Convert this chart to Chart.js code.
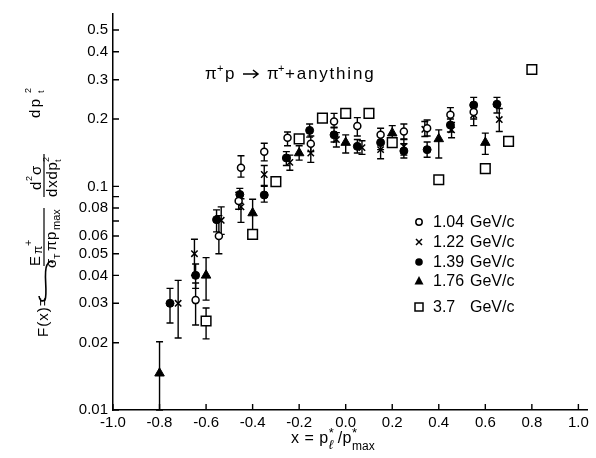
<!DOCTYPE html>
<html><head><meta charset="utf-8">
<script src="https://cdn.jsdelivr.net/npm/chart.js@4.4.1/dist/chart.umd.min.js"></script>
<style>html,body{margin:0;padding:0;background:#fff;}canvas{display:block;}</style>
</head><body>
<canvas id="c" width="596" height="458"></canvas>
<script>
// ---- axis ticks ----
const xTickValues = [-1.0,-0.8,-0.6,-0.4,-0.2,0.0,0.2,0.4,0.6,0.8,1.0];
const yTickValues = [0.01,0.02,0.03,0.04,0.05,0.06,0.07,0.08,0.09,0.1,0.2,0.3,0.4,0.5];
const yTickLabels = ['0.01','0.02','0.03','0.04','0.05','0.06','','0.08','','0.1','0.2','0.3','0.4','0.5'];

// ---- series: 1.04 GeV/c (open circles) ----
const x104  = [-0.645,-0.545,-0.46,-0.45,-0.35,-0.25,-0.15,-0.05,0.05,0.15,0.25,0.35,0.45,0.55];
const y104  = [0.031,0.060,0.086,0.121,0.143,0.165,0.155,0.195,0.186,0.170,0.176,0.182,0.209,0.215];
const lo104 = [0.024,0.050,0.079,0.110,0.130,0.152,0.143,0.184,0.168,0.158,0.162,0.168,0.192,0.200];
const hi104 = [0.037,0.074,0.094,0.137,0.156,0.175,0.168,0.212,0.203,0.182,0.190,0.198,0.225,0.235];
// ---- 1.22 GeV/c (crosses) ----
const x122  = [-0.72,-0.65,-0.535,-0.45,-0.35,-0.24,-0.15,-0.04,0.07,0.15,0.25,0.34,0.455,0.55,0.66];
const y122  = [0.030,0.050,0.0705,0.081,0.113,0.128,0.141,0.162,0.149,0.146,0.151,0.180,0.179,0.209,0.199];
const lo122 = [0.021,0.040,0.061,0.069,0.101,0.118,0.128,0.150,0.139,0.133,0.138,0.167,0.165,0.187,0.176];
const hi122 = [0.038,0.058,0.081,0.088,0.124,0.138,0.153,0.174,0.160,0.158,0.163,0.195,0.193,0.225,0.223];
// ---- 1.39 GeV/c (filled circles) ----
const x139  = [-0.755,-0.645,-0.555,-0.455,-0.35,-0.255,-0.155,-0.05,0.05,0.15,0.25,0.35,0.45,0.55,0.65];
const y139  = [0.030,0.040,0.071,0.092,0.0915,0.134,0.178,0.170,0.151,0.157,0.144,0.146,0.188,0.231,0.233];
const lo139 = [0.0245,0.035,0.0626,0.084,0.085,0.124,0.166,0.158,0.141,0.146,0.134,0.135,0.175,0.215,0.213];
const hi139 = [0.035,0.045,0.0785,0.098,0.100,0.143,0.190,0.183,0.162,0.168,0.155,0.158,0.200,0.250,0.250];
// ---- 1.76 GeV/c (filled triangles) ----
const x176  = [-0.80,-0.60,-0.40,-0.20,0.00,0.20,0.40,0.60];
const y176  = [0.0146,0.040,0.076,0.141,0.157,0.173,0.163,0.157];
const lo176 = [0.0100,0.031,0.064,0.131,0.141,0.160,0.134,0.139];
const hi176 = [0.0202,0.048,0.0876,0.152,0.170,0.187,0.179,0.173];
// ---- 3.7 GeV/c (open squares) ----
const x37  = [-0.60,-0.40,-0.30,-0.20,-0.10,0.00,0.10,0.20,0.40,0.60,0.70,0.80];
const y37  = [0.025,0.061,0.105,0.163,0.202,0.212,0.212,0.157,0.107,0.120,0.159,0.333];
const lo37 = [0.0208,null,null,null,null,null,null,null,null,null,null,null];
const hi37 = [0.0286,null,null,null,null,null,null,null,null,null,null,null];

const legendMomenta = ['1.04','1.22','1.39','1.76','3.7'];
const legendUnit = 'GeV/c';

const FONT = '"Liberation Sans", Arial, sans-serif';

function pts(xs, ys, lo, hi){ return xs.map((x,i)=>({x:x, y:ys[i], lo:lo[i], hi:hi[i]})); }

const datasets = [
  {label:legendMomenta[0]+' '+legendUnit, data:pts(x104,y104,lo104,hi104), pointStyle:'circle', radius:3.5, backgroundColor:'#fff', borderColor:'#000', borderWidth:1.5},
  {label:legendMomenta[1]+' '+legendUnit, data:pts(x122,y122,lo122,hi122), pointStyle:'crossRot', radius:4.5, backgroundColor:'#000', borderColor:'#000', borderWidth:1.5},
  {label:legendMomenta[2]+' '+legendUnit, data:pts(x139,y139,lo139,hi139), pointStyle:'circle', radius:4, backgroundColor:'#000', borderColor:'#000', borderWidth:1},
  {label:legendMomenta[3]+' '+legendUnit, data:pts(x176,y176,lo176,hi176), pointStyle:'triangle', radius:5.5, backgroundColor:'#000', borderColor:'#000', borderWidth:1},
  {label:legendMomenta[4]+' '+legendUnit, data:pts(x37,y37,lo37,hi37), pointStyle:'rect', radius:6.8, backgroundColor:'#fff', borderColor:'#000', borderWidth:1.5}
];

const errPlugin = {
  id:'errbars',
  beforeDatasetsDraw(chart){
    const ctx = chart.ctx, xs = chart.scales.x, ys = chart.scales.y;
    ctx.save(); ctx.strokeStyle = '#000'; ctx.lineWidth = 1.4;
    chart.data.datasets.forEach(ds => ds.data.forEach(p => {
      if (p.lo == null) return;
      const px = xs.getPixelForValue(p.x), pl = ys.getPixelForValue(p.lo), ph = ys.getPixelForValue(p.hi);
      ctx.beginPath();
      ctx.moveTo(px, pl); ctx.lineTo(px, ph);
      ctx.moveTo(px-3.5, pl); ctx.lineTo(px+3.5, pl);
      ctx.moveTo(px-3.5, ph); ctx.lineTo(px+3.5, ph);
      ctx.stroke();
    }));
    ctx.restore();
  }
};

function drawMarker(ctx, style, x, y){
  ctx.save(); ctx.strokeStyle = '#000'; ctx.fillStyle = '#000'; ctx.lineWidth = 1.5;
  if (style === 'ocircle'){ ctx.beginPath(); ctx.arc(x,y,3.2,0,Math.PI*2); ctx.stroke(); }
  else if (style === 'cross'){ ctx.beginPath(); ctx.moveTo(x-3,y-3); ctx.lineTo(x+3,y+3); ctx.moveTo(x+3,y-3); ctx.lineTo(x-3,y+3); ctx.stroke(); }
  else if (style === 'fcircle'){ ctx.beginPath(); ctx.arc(x,y,3.8,0,Math.PI*2); ctx.fill(); }
  else if (style === 'tri'){ ctx.beginPath(); ctx.moveTo(x,y-5); ctx.lineTo(x+4.5,y+3.5); ctx.lineTo(x-4.5,y+3.5); ctx.closePath(); ctx.fill(); }
  else if (style === 'square'){ ctx.strokeRect(x-4,y-4,8,8); }
  ctx.restore();
}

function txt(ctx, s, x, y, size, spacing){
  ctx.font = size + 'px ' + FONT;
  ctx.letterSpacing = (spacing || 0) + 'px';
  ctx.fillText(s, x, y);
  ctx.letterSpacing = '0px';
}

const decorPlugin = {
  id:'decor',
  afterDraw(chart){
    const ctx = chart.ctx, xs = chart.scales.x, ys = chart.scales.y, a = chart.chartArea;
    ctx.save();
    ctx.strokeStyle = '#000'; ctx.lineWidth = 1.4;
    // inward tick marks
    ctx.beginPath();
    yTickValues.forEach(v => { const py = ys.getPixelForValue(v); ctx.moveTo(a.left, py); ctx.lineTo(a.left+6, py); });
    xTickValues.forEach(v => { const px = xs.getPixelForValue(v); ctx.moveTo(px, a.bottom); ctx.lineTo(px, a.bottom-6); });
    ctx.stroke();

    ctx.fillStyle = '#000';
    ctx.textAlign = 'left'; ctx.textBaseline = 'alphabetic';
    // reaction text: pi+ p -> pi+ + anything
    txt(ctx, '\u03C0', 205, 79, 17);
    txt(ctx, '+', 217, 72, 11);
    txt(ctx, 'p', 225, 79, 17);
    ctx.lineWidth = 1.5;
    ctx.beginPath(); ctx.moveTo(243, 74); ctx.lineTo(258, 74);
    ctx.moveTo(253, 70); ctx.lineTo(258, 74); ctx.lineTo(253, 78); ctx.stroke();
    txt(ctx, '\u03C0', 267, 79, 17);
    txt(ctx, '+', 278, 72, 11);
    txt(ctx, '+anything', 285, 79, 17, 1.8);

    // legend
    const styles = ['ocircle','cross','fcircle','tri','square'];
    const rows = [222, 242, 262, 281, 307];
    ctx.textBaseline = 'middle';
    legendMomenta.forEach((t,i) => {
      drawMarker(ctx, styles[i], 419, rows[i]);
      txt(ctx, t, 433, rows[i]+1, 16);
      txt(ctx, legendUnit, 470, rows[i]+1, 16);
    });

    // x axis title: x = p*_l / p*_max
    ctx.textBaseline = 'alphabetic';
    let cx = 291; const by = 443;
    txt(ctx, 'x = p', cx, by, 16, 0.5); ctx.font = '16px ' + FONT; cx += ctx.measureText('x = p').width + 2.5;
    txt(ctx, '*', cx, by-6, 13);
    ctx.font = 'italic 13px ' + FONT; ctx.fillText('\u2113', cx, by+6);
    cx += 9;
    txt(ctx, '/p', cx, by, 16, 0.5); ctx.font = '16px ' + FONT; cx += ctx.measureText('/p').width + 1;
    txt(ctx, '*', cx, by-6, 13);
    txt(ctx, 'max', cx, by+7, 12);

    // y axis title (rotated formula) -- integral drawn as a stroke in screen coords
    ctx.lineWidth = 1.6;
    ctx.beginPath();
    ctx.moveTo(39, 296);
    ctx.quadraticCurveTo(40, 303, 45, 300);
    ctx.bezierCurveTo(48, 292, 43, 272, 47, 265);
    ctx.quadraticCurveTo(50, 259, 53, 263);
    ctx.stroke();

    ctx.translate(44, 0); ctx.rotate(-Math.PI/2);
    // in rotated frame: u = -screenY, v = screenX - 44
    ctx.textBaseline = 'alphabetic'; ctx.textAlign = 'left';
    txt(ctx, 'F(x)=', -337, 4, 15, 1);
    // fraction 1
    ctx.lineWidth = 1.2;
    ctx.beginPath(); ctx.moveTo(-266, 0); ctx.lineTo(-208, 0); ctx.stroke();
    txt(ctx, 'E', -266, -4, 15);
    txt(ctx, '\u03C0', -254, -2, 12);
    txt(ctx, '+', -246, -12, 11);
    txt(ctx, '\u03C3', -268, 12, 15);
    txt(ctx, 'T', -259, 16, 9);
    txt(ctx, '\u03C0', -251, 12, 15);
    txt(ctx, 'p', -240, 12, 15);
    txt(ctx, 'max', -230, 16, 11);
    // fraction 2
    ctx.beginPath(); ctx.moveTo(-197, 0); ctx.lineTo(-154, 0); ctx.stroke();
    txt(ctx, 'd', -190, -3, 15);
    txt(ctx, '2', -181, -12, 9);
    txt(ctx, '\u03C3', -175, -3, 15);
    txt(ctx, 'dxdp', -197, 13, 15, 0.8);
    txt(ctx, '2', -162, 5, 9);
    txt(ctx, 't', -162, 17, 9);
    // dp_t^2
    txt(ctx, 'dp', -118, -4, 15, 2.5);
    txt(ctx, '2', -93, -13, 9);
    txt(ctx, 't', -93, 0, 9);
    ctx.restore();
  }
};

new Chart(document.getElementById('c'), {
  type:'scatter',
  data:{datasets:datasets},
  options:{
    responsive:false, animation:false, devicePixelRatio:1,
    layout:{padding:{left:0, right:7, top:10, bottom:0}},
    plugins:{legend:{display:false}, tooltip:{enabled:false}},
    scales:{
      x:{
        type:'linear', min:-1.0, max:1.04,
        afterBuildTicks: s => { s.ticks = xTickValues.map(v => ({value:v})); },
        afterFit: s => { s.height = 48; },
        grid:{display:false, drawTicks:false},
        border:{display:true, color:'#000', width:1.5},
        ticks:{color:'#000', padding:4, font:{family:FONT, size:15}, maxRotation:0, autoSkip:false,
               callback: v => (Math.abs(v) < 1e-9 ? '0.0' : v.toFixed(1))}
      },
      y:{
        type:'logarithmic', min:0.01, max:0.59,
        afterBuildTicks: s => { s.ticks = yTickValues.map(v => ({value:v})); },
        afterFit: s => { s.width = 113; },
        grid:{display:false, drawTicks:false},
        border:{display:true, color:'#000', width:1.5},
        ticks:{color:'#000', padding:5, font:{family:FONT, size:15}, autoSkip:false,
               callback: (v, i) => yTickLabels[i]}
      }
    }
  },
  plugins:[errPlugin, decorPlugin]
});
</script>
</body></html>
